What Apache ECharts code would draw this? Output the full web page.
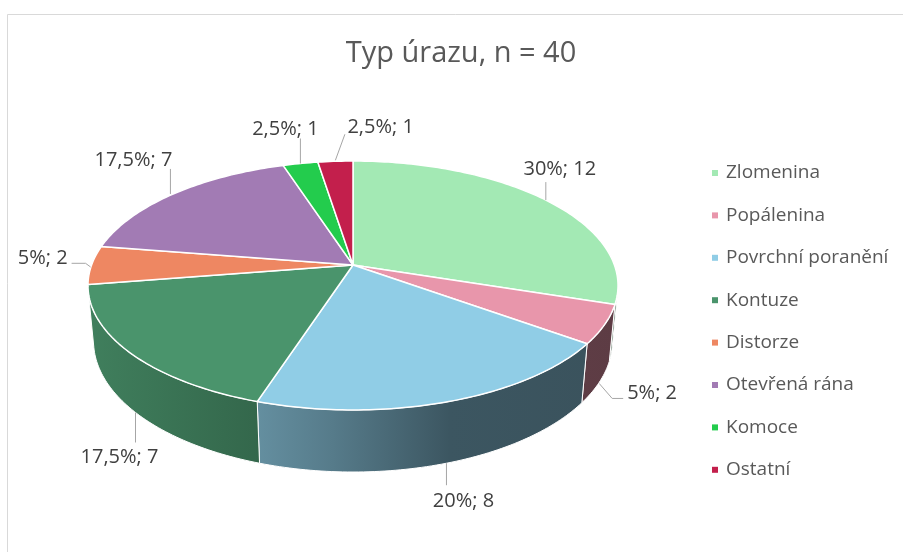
<!DOCTYPE html>
<html>
<head>
<meta charset="utf-8">
<script src="https://cdn.jsdelivr.net/npm/echarts@6/dist/echarts.min.js"></script>
<style>
  html, body { margin: 0; padding: 0; background: #fff; }
  #chart { width: 903px; height: 552px; }
</style>
</head>
<body>
<div id="chart"></div>
<script>
const categories = ['Zlomenina', 'Popálenina', 'Povrchní poranění', 'Kontuze', 'Distorze', 'Otevřená rána', 'Komoce', 'Ostatní'];
const counts = [12, 2, 8, 7, 2, 7, 1, 1];
const colors = ['#a3e9b4', '#e896ab', '#90cde6', '#4a946c', '#ee8762', '#a27bb4', '#23cc4d', '#c31f4c'];

// label placement relative to the slice anchor (text offset, align, leader path)
const labelLayout = [
  { t: [14, -31], align: 'center', path: [[0, 0], [0, -18]] },
  { t: [28, 11], align: 'left', path: [[0, 1], [13, 16], [24, 16]] },
  { t: [17, 38], align: 'center', path: [[0, 0], [0, 22]] },
  { t: [-16, 45], align: 'center', path: [[0, 0], [0, 30]] },
  { t: [-24, -7], align: 'right', path: [[-1, 2], [-6, -1.7], [-20, -1.7]] },
  { t: [-40, -34], align: 'center', path: [[-3, 0], [-3, -25]] },
  { t: [-15, -34], align: 'center', path: [[0, 0], [0, -25]] },
  { t: [12, -34], align: 'left', path: [[0, -1], [9.5, -27]] }
];

const total = counts.reduce((s, v) => s + v, 0);
const startAngles = [];
counts.reduce((acc, v, i) => { startAngles[i] = acc; return acc + v / total * 360; }, 0);

// simple perspective camera for the tilted pie
const CX = 353, CY = 265;
const DIST = 5.382, FOCAL = 1406.9;
const SIN_A = 0.4633, COS_A = 0.886;
const DEPTH = 0.2424;
const VIS_FROM = Math.acos(-1 / (DIST * COS_A)) * 180 / Math.PI;
const VIS_TO = 360 - VIS_FROM;

function project(deg, y) {
  const t = deg * Math.PI / 180;
  const x = Math.sin(t), z = Math.cos(t);
  const Y = z * SIN_A + y * COS_A;
  const d = DIST + z * COS_A - y * SIN_A;
  return [CX + FOCAL * x / d, CY - FOCAL * Y / d];
}

function arc(a, b, y) {
  const pts = [];
  const n = Math.max(2, Math.ceil(Math.abs(b - a)));
  for (let k = 0; k <= n; k++) pts.push(project(a + (b - a) * k / n, y));
  return pts;
}

function shade(hex, f) {
  const n = parseInt(hex.slice(1), 16);
  const r = Math.round(((n >> 16) & 255) * f), g = Math.round(((n >> 8) & 255) * f), b = Math.round((n & 255) * f);
  return 'rgb(' + r + ',' + g + ',' + b + ')';
}

function wallFill(hex) {
  return {
    type: 'linear', x: 88, y: 0, x2: 620, y2: 0, global: true,
    colorStops: [
      { offset: 0, color: shade(hex, 0.86) },
      { offset: 0.31, color: shade(hex, 0.7) },
      { offset: 0.46, color: shade(hex, 0.6) },
      { offset: 0.68, color: shade(hex, 0.42) },
      { offset: 1, color: shade(hex, 0.4) }
    ]
  };
}

function labelText(i) {
  const pct = Math.round(counts[i] / total * 1000) / 10;
  return String(pct).replace('.', ',') + '%; ' + counts[i];
}

function renderSlice(params, api) {
  const i = params.seriesIndex;
  const a0 = startAngles[i];
  const a1 = a0 + counts[i] / total * 360;
  const children = [];

  const w0 = Math.max(a0, VIS_FROM), w1 = Math.min(a1, VIS_TO);
  if (w1 > w0) {
    children.push({
      type: 'polygon', z2: 1,
      shape: { points: arc(w0, w1, 0).concat(arc(w1, w0, -DEPTH)) },
      style: { fill: wallFill(colors[i]), stroke: '#ffffff', lineWidth: 1 }
    });
  }

  children.push({
    type: 'polygon', z2: 2,
    shape: { points: [[CX, CY]].concat(arc(a0, a1, 0)) },
    style: { fill: colors[i], stroke: '#ffffff', lineWidth: 1.5, lineJoin: 'round' }
  });

  const mid = (a0 + a1) / 2;
  const anchor = (mid > VIS_FROM && mid < VIS_TO) ? project(mid, -DEPTH) : project(mid, 0);
  const lay = labelLayout[i];
  children.push({
    type: 'polyline', z2: 3,
    shape: { points: lay.path.map(p => [anchor[0] + p[0], anchor[1] + p[1]]) },
    style: { stroke: '#a6a6a6', lineWidth: 1, fill: null }
  });
  children.push({
    type: 'text', z2: 3,
    style: {
      text: labelText(i), x: anchor[0] + lay.t[0], y: anchor[1] + lay.t[1],
      align: lay.align, verticalAlign: 'middle',
      fill: '#404040', fontSize: 20, fontFamily: 'Open Sans'
    }
  });

  return { type: 'group', children: children };
}

const chart = echarts.init(document.getElementById('chart'));

const option = {
  animation: false,
  backgroundColor: '#ffffff',
  title: {
    text: 'Typ úrazu, n = 40',
    left: 461, top: 38, textAlign: 'center', padding: 0,
    textStyle: { color: '#595959', fontSize: 29, fontWeight: 'normal', fontFamily: 'Open Sans', lineHeight: 32 }
  },
  legend: {
    orient: 'vertical',
    left: 712, top: 163, padding: 0,
    icon: 'rect', itemWidth: 6, itemHeight: 6, itemGap: 22.4,
    data: categories,
    textStyle: { color: '#595959', fontSize: 19, fontFamily: 'Open Sans', lineHeight: 20, padding: [0, 0, 0, 3] }
  },
  graphic: [{
    type: 'rect', z: -1, silent: true,
    shape: { x: 7.5, y: 14.5, width: 1000, height: 700 },
    style: { fill: null, stroke: '#d9d9d9', lineWidth: 1 }
  }],
  series: categories.map((name, i) => ({
    type: 'custom',
    name: name,
    coordinateSystem: 'none',
    itemStyle: { color: colors[i] },
    data: [counts[i]],
    renderItem: renderSlice
  }))
};

chart.setOption(option);
</script>
</body>
</html>
